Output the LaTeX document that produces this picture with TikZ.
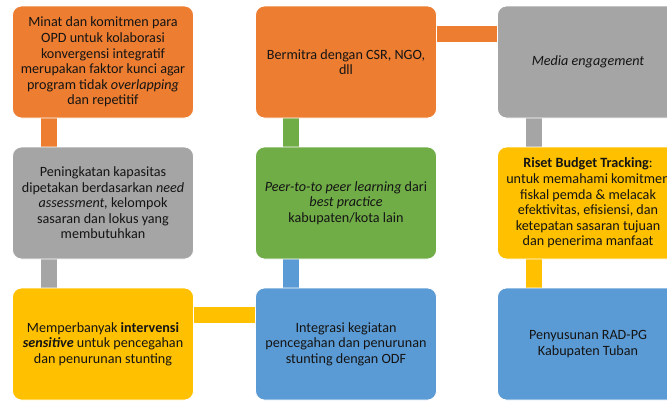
\documentclass[tikz,border=0pt]{standalone}
\usepackage{fontspec}
\setmainfont{Carlito}
\usetikzlibrary{backgrounds}
\definecolor{cOrange}{HTML}{ED7D31}
\definecolor{cGrey}{HTML}{A5A5A5}
\definecolor{cGreen}{HTML}{70AD47}
\definecolor{cYellow}{HTML}{FFC000}
\definecolor{cBlue}{HTML}{5B9BD5}
\definecolor{cText}{HTML}{141414}
\tikzset{
  box/.style={rectangle, rounded corners=9bp, draw=white, line width=0.8bp,
    minimum width=181bp, minimum height=112bp, inner sep=2bp, align=center,
    text=cText, font=\fontsize{14.2}{15.6}\selectfont},
  conn/.style={line width=16bp, draw=#1}
}
\begin{document}
\begin{tikzpicture}[x=1bp,y=-1bp]
\useasboundingbox (0,0) rectangle (667,401);
\node[box, fill=cOrange] (a1) at (103,62) {Minat dan komitmen para\\OPD untuk kolaborasi\\konvergensi integratif\\merupakan faktor kunci agar\\program tidak \textit{overlapping}\\dan repetitif};
\node[box, fill=cGrey] (a2) at (103,203) {Peningkatan kapasitas\\dipetakan berdasarkan \textit{need}\\\textit{assessment,} kelompok\\sasaran dan lokus yang\\membutuhkan};
\node[box, fill=cYellow] (a3) at (103,344) {Memperbanyak \textbf{intervensi}\\\textbf{\textit{sensitive}} untuk pencegahan\\dan penurunan stunting};
\node[box, fill=cOrange] (b1) at (346,62) {Bermitra dengan CSR, NGO,\\dll};
\node[box, fill=cGreen] (b2) at (346,203) {\textit{Peer-to-to peer learning} dari\\\textit{best practice}\\kabupaten/kota lain};
\node[box, fill=cBlue] (b3) at (346,344) {Integrasi kegiatan\\pencegahan dan penurunan\\stunting dengan ODF};
\node[box, fill=cGrey] (c1) at (588,62) {\textit{Media engagement}};
\node[box, fill=cYellow] (c2) at (588,203) {\textbf{Riset Budget Tracking}:\\untuk memahami komitmen\\fiskal pemda \& melacak\\efektivitas, efisiensi, dan\\ketepatan sasaran tujuan\\dan penerima manfaat};
\node[box, fill=cBlue] (c3) at (588,344) {Penyusunan RAD-PG\\Kabupaten Tuban};
\begin{scope}[on background layer]
\draw[conn=cOrange] ([xshift=-54bp]a1.south) -- ([xshift=-54bp]a2.north);
\draw[conn=cGrey] ([xshift=-54bp]a2.south) -- ([xshift=-54bp]a3.north);
\draw[conn=cGreen] ([xshift=-55bp]b1.south) -- ([xshift=-55bp]b2.north);
\draw[conn=cBlue] ([xshift=-55bp]b2.south) -- ([xshift=-55bp]b3.north);
\draw[conn=cGrey] ([xshift=-54bp]c1.south) -- ([xshift=-54bp]c2.north);
\draw[conn=cYellow] ([xshift=-54bp]c2.south) -- ([xshift=-54bp]c3.north);
\draw[conn=cOrange] ([yshift=28.5bp]b1.east) -- ([yshift=28.5bp]c1.west);
\draw[conn=cYellow] ([yshift=29bp]a3.east) -- ([yshift=29bp]b3.west);
\end{scope}
\end{tikzpicture}
\end{document}
